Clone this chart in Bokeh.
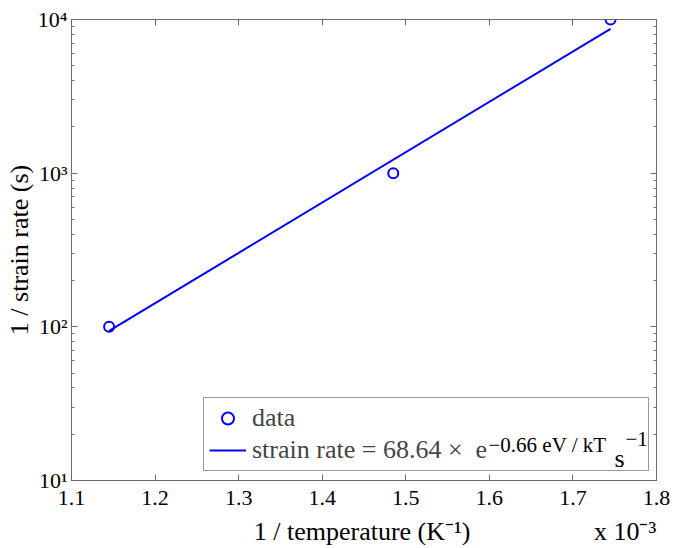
from bokeh.plotting import figure
from bokeh.models import (Range1d, LinearAxis, LogAxis, FixedTicker, Legend, LegendItem,
                          Label, ColumnDataSource)
from bokeh.embed import file_html
from bokeh.resources import INLINE

# ---- data (x in units of 1e-3 K^-1) ----
inv_temp = [1.145, 1.485, 1.745]
inv_rate = [100, 1000, 10000]
fit_x = [1.145, 1.745]
fit_y = [94, 8700]

x_ticks = [1.1, 1.2, 1.3, 1.4, 1.5, 1.6, 1.7, 1.8]
y_ticks = [10, 100, 1000, 10000]
y_minor = [m * d for d in (10, 100, 1000) for m in range(2, 10)]
y_tick_labels = {10: "10\u00b9", 100: "10\u00b2", 1000: "10\u00b3", 10000: "10\u2074"}

NB = "\u00a0"
x_label = NB * 28 + "1 / temperature (K\u207b\u00b9)" + NB * 19 + "x 10\u207b\u00b3"
y_label = "1 / strain rate (s)"

FONT = "Liberation Serif"
AX = "#6a6a6a"
BLUE = "#0000ff"

p = figure(width=675, height=548, output_backend="svg", toolbar_location=None,
           x_range=Range1d(1.1, 1.8), y_range=Range1d(10, 10000), y_axis_type="log",
           min_border_left=71, min_border_right=19, min_border_top=19, min_border_bottom=68)
p.xgrid.visible = False
p.ygrid.visible = False
p.outline_line_color = AX
p.background_fill_color = "white"
p.border_fill_color = "white"

def style(ax):
    ax.axis_line_color = AX
    ax.major_tick_line_color = AX
    ax.minor_tick_line_color = AX
    ax.major_tick_in = 6
    ax.major_tick_out = 0
    ax.minor_tick_in = 3
    ax.minor_tick_out = 0
    ax.major_label_text_font = FONT
    ax.major_label_text_color = "black"
    ax.major_label_text_font_size = "22px"
    ax.axis_label_text_font = FONT
    ax.axis_label_text_font_style = "normal"
    ax.axis_label_text_font_size = "26px"
    ax.axis_label_text_color = "black"

xt = FixedTicker(ticks=x_ticks, minor_ticks=[])
yt = FixedTicker(ticks=y_ticks, minor_ticks=y_minor)

xa = p.xaxis[0]
xa.ticker = xt
xa.axis_label = x_label
style(xa)
xa.major_label_standoff = 10
xa.axis_label_standoff = 9

ya = p.yaxis[0]
ya.ticker = yt
ya.major_label_overrides = y_tick_labels
ya.axis_label = y_label
style(ya)
ya.major_label_standoff = 4
ya.axis_label_standoff = 1

top = LinearAxis(ticker=xt, major_label_overrides={t: "" for t in x_ticks})
style(top)
p.add_layout(top, "above")
right = LogAxis(ticker=yt, major_label_overrides={t: "" for t in y_ticks})
style(right)
p.add_layout(right, "right")

src = ColumnDataSource(dict(x=inv_temp, y=inv_rate))
r_fit = p.line(fit_x, fit_y, line_color=BLUE, line_width=2)
r_data = p.scatter("x", "y", source=src, marker="circle", size=10, fill_color=None,
                   line_color=BLUE, line_width=2)

legend = Legend(items=[LegendItem(label="data", renderers=[r_data]),
                       LegendItem(label="strain rate = 68.64 \u00d7  e" + NB * 24,
                                  renderers=[r_fit])],
                location=(132, 9), margin=0, padding=5, spacing=2,
                glyph_width=37, glyph_height=30, label_height=30, label_standoff=6,
                label_text_font=FONT, label_text_font_size="26px",
                border_line_color="#333333", border_line_width=1,
                background_fill_color="white", background_fill_alpha=0.0)
p.add_layout(legend)

sup_kw = dict(x_units="screen", y_units="screen", text_font=FONT, text_color="black",
              text_baseline="alphabetic")
p.add_layout(Label(x=417, y=36, text="\u22120.66 eV / kT", text_font_size="21px", **sup_kw))
p.add_layout(Label(x=543, y=22, text="s", text_font_size="26px", **sup_kw))
p.add_layout(Label(x=554, y=42, text="\u22121", text_font_size="21px", **sup_kw))

open("out.html", "w").write(file_html(p, INLINE))
